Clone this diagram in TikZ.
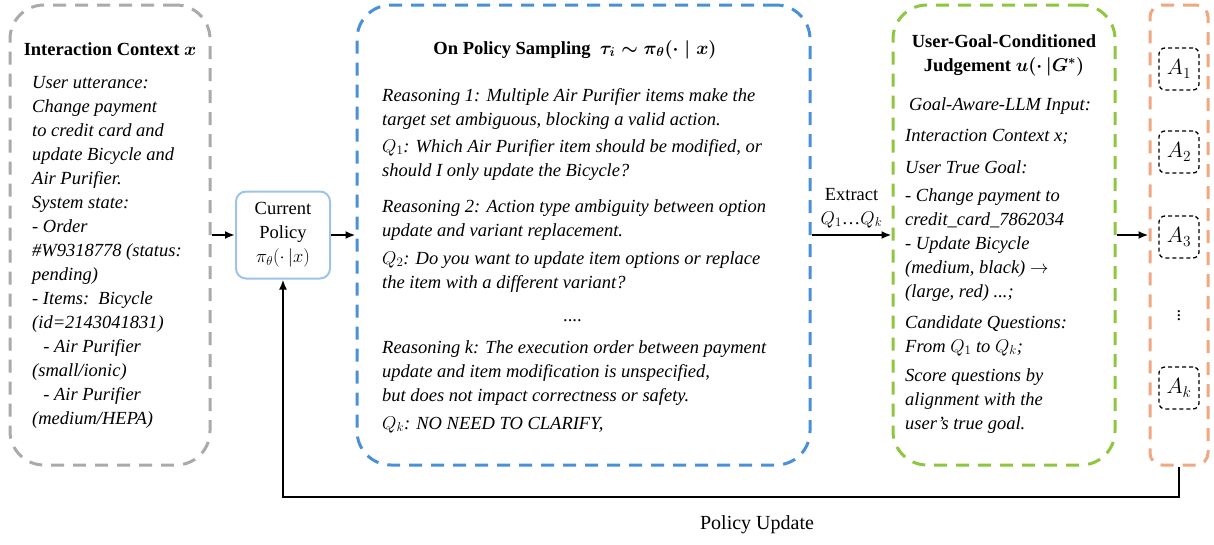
\RequirePackage{fix-cm}
\documentclass[tikz,border=0pt]{standalone}
\usepackage{amsmath,amssymb,bm}
\usepackage{fontspec}
\setmainfont{Liberation Serif}
\usetikzlibrary{positioning,arrows.meta,calc}
\definecolor{ctxgray}{RGB}{170,170,170}
\definecolor{sampblue}{RGB}{74,144,217}
\definecolor{judgegreen}{RGB}{141,198,63}
\definecolor{advorange}{RGB}{240,168,130}
\definecolor{policyblue}{RGB}{157,195,230}
\newcommand{\diagfont}{\fontsize{18.5}{24}\selectfont}
\tikzset{
  panel/.style={draw,line width=3pt,dash pattern=on 13pt off 9pt,rounded corners=34pt,inner sep=0pt},
  body/.style={font=\diagfont\itshape,align=left,inner sep=0pt,anchor=base west},
  heading/.style={font=\diagfont\bfseries\boldmath,align=center,inner sep=0pt,anchor=base},
  flow/.style={-{Latex[length=10pt,width=8pt]},line width=2pt},
  advslot/.style={draw,line width=1.3pt,dash pattern=on 4pt off 3pt,rounded corners=6pt,minimum width=40pt,minimum height=42pt,inner sep=0pt,font=\fontsize{22}{24}\selectfont}
}

\begin{document}
\begin{tikzpicture}[x=1pt,y=-1pt,font=\diagfont]
\useasboundingbox (0,0) rectangle (1214,544);
% panels
\node[panel,ctxgray,minimum width=200pt,minimum height=460pt] (ctxbox) at (110,235) {};
\node[panel,sampblue,minimum width=453pt,minimum height=460pt] (sampbox) at (583.5,235) {};
\node[panel,judgegreen,minimum width=222pt,minimum height=460pt] (judgebox) at (1004,235) {};
\node[panel,advorange,rounded corners=12pt,minimum width=58pt,minimum height=460pt] (advbox) at (1179,235) {};
\node[draw=policyblue,line width=2pt,rounded corners=10pt,minimum width=94pt,minimum height=87pt,align=center,inner sep=0pt] (policy) at (283,235) {Current\\Policy\\$\pi_\theta(\cdot\,|x)$};

% interaction context (anchored on the last line)
\node[heading] (ctxtitle) at (110,55) {Interaction Context $x$};
\node[body] (ctxtext) at (32,424) {User utterance:\\
Change payment\\
to credit card and\\
update Bicycle and\\
Air Purifier.\\
System state:\\
- Order\\
\#W9318778 (status:\\
pending)\\
- Items:\ \ Bicycle\\
(id=2143041831)\\
\hspace*{0.6em}- Air Purifier\\
(small/ionic)\\
\hspace*{0.6em}- Air Purifier\\
(medium/HEPA)};

% sampled reasoning
\node[heading] (samptitle) at (575,54) {On Policy Sampling\ \ $\tau_i\sim\pi_\theta(\cdot\mid x)$};
\node[body] (samptext) at (382,429) {Reasoning 1: Multiple Air Purifier items make the\\
target set ambiguous, blocking a valid action.\\[3pt]
$Q_1$: Which Air Purifier item should be modified, or\\
should I only update the Bicycle?\\[12pt]
Reasoning 2: Action type ambiguity between option\\
update and variant replacement.\\[4pt]
$Q_2$: Do you want to update item options or replace\\
the item with a different variant?\\[9pt]
\hspace*{181pt}\upshape....\\[8pt]
Reasoning k: The execution order between payment\\
update and item modification is unspecified,\\
but does not impact correctness or safety.\\[4pt]
$Q_k$: NO NEED TO CLARIFY,};

% goal-conditioned judge
\node[heading] (judgetitle) at (1004,71) {User-Goal-Conditioned\\Judgement $u(\cdot\,|G^{*})$};
\node[body] (judgetext) at (905,429) {\hspace*{4pt}Goal-Aware-LLM Input:\\[7pt]
Interaction Context x;\\[8pt]
User True Goal:\\[4pt]
- Change payment to\\
credit\_card\_7862034\\
- Update Bicycle\\
(medium, black) $\rightarrow$\\
(large, red) ...;\\[7pt]
Candidate Questions:\\
From $Q_1$ to $Q_k$;\\[5pt]
Score questions by\\
alignment with the\\
user's true goal.};

% advantage slots
\node[advslot] (a1) at (1179,69) {$A_1$};
\node[advslot] (a2) at (1179,152) {$A_2$};
\node[advslot] (a3) at (1179,237) {$A_3$};
\node (adots) at (1179,313) {$\vdots$};
\node[advslot] (ak) at (1179,388) {$A_k$};

% flow
\draw[flow] (ctxbox.east) -- (policy.west);
\draw[flow] (policy.east) -- (sampbox.west);
\draw[flow] (sampbox.east) -- node[above=3pt,align=center] {Extract\\$Q_1$\ldots$Q_k$} (judgebox.west);
\draw[flow] (judgebox.east) -- (advbox.west);

% policy update loop
\coordinate (loopbase) at (0,497);
\draw[flow] (advbox.south) -- (advbox.south |- loopbase) -- (policy.south |- loopbase) -- (policy.south);
\node[font=\fontsize{20}{24}\selectfont] (updlabel) at (757,525) {Policy Update};
\end{tikzpicture}
\end{document}
